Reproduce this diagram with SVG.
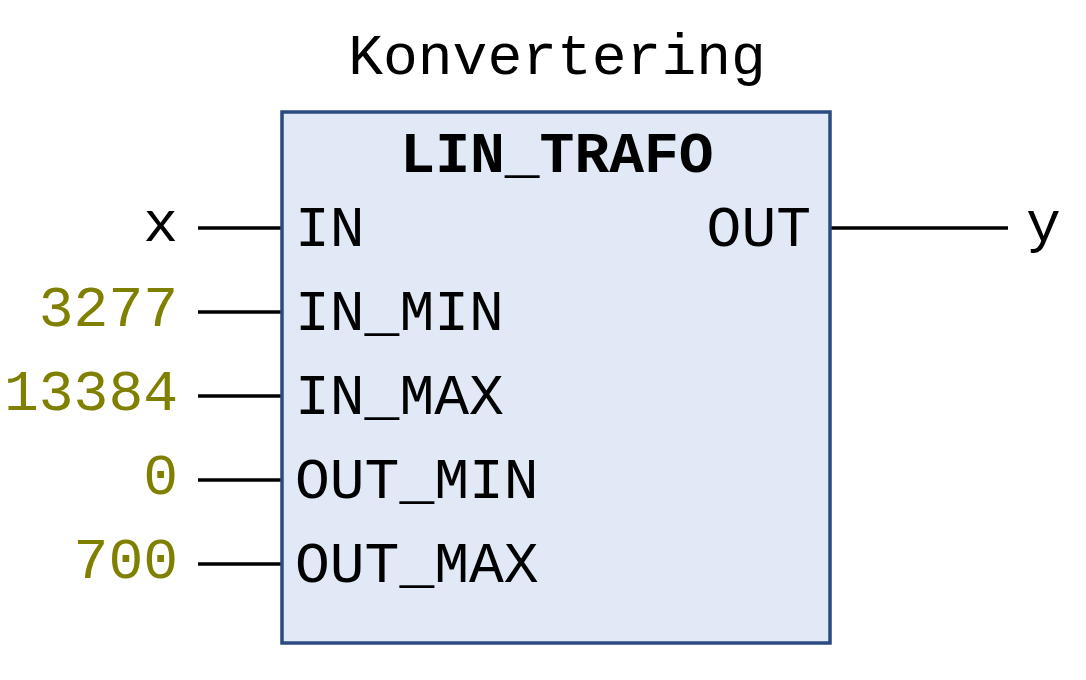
<svg xmlns="http://www.w3.org/2000/svg" width="1086" height="680" viewBox="0 0 1086 680">
<style>
text{font-family:"Liberation Mono","Courier New",monospace;font-size:58px;fill:#000}
.v{fill:#808000;text-anchor:end}
.w{stroke:#000;stroke-width:3.5;fill:none}
</style>
<rect width="1086" height="680" fill="#fff"/>
<g id="title"><text x="557" y="74" text-anchor="middle">Konvertering</text></g>
<g id="connectors">
<line class="w" x1="198" y1="228" x2="282" y2="228"/>
<line class="w" x1="198" y1="312" x2="282" y2="312"/>
<line class="w" x1="198" y1="396" x2="282" y2="396"/>
<line class="w" x1="198" y1="480" x2="282" y2="480"/>
<line class="w" x1="198" y1="564" x2="282" y2="564"/>
<line class="w" x1="830" y1="228" x2="1008" y2="228"/>
</g>
<g id="block">
<rect x="282" y="112" width="548" height="531" fill="#e1e9f6" stroke="#2b4a80" stroke-width="3.5"/>
<text x="557" y="172" text-anchor="middle" font-weight="bold">LIN_TRAFO</text>
<text x="295" y="246">IN</text>
<text x="295" y="330">IN_MIN</text>
<text x="295" y="414">IN_MAX</text>
<text x="295" y="498">OUT_MIN</text>
<text x="295" y="582">OUT_MAX</text>
<text x="811" y="246" text-anchor="end">OUT</text>
</g>
<g id="inputs">
<text x="178" y="241" text-anchor="end">x</text>
<text class="v" x="178" y="326">3277</text>
<text class="v" x="178" y="410">13384</text>
<text class="v" x="178" y="494">0</text>
<text class="v" x="178" y="578">700</text>
</g>
<g id="outputs"><text x="1026" y="241">y</text></g>
</svg>
